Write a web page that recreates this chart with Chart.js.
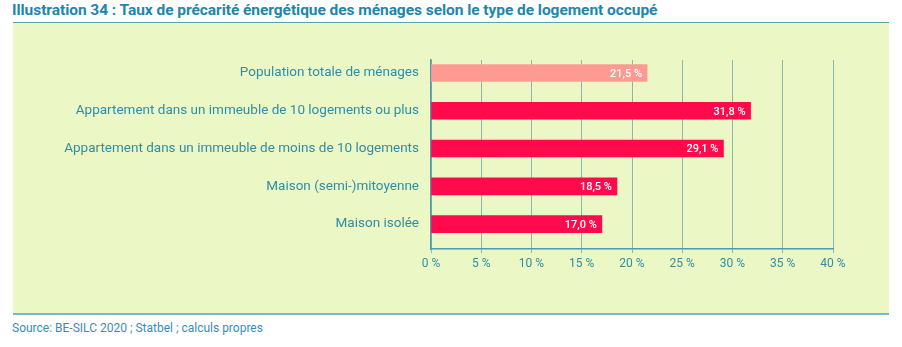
<!DOCTYPE html>
<html lang="fr">
<head>
<meta charset="UTF-8">
<title>Illustration 34</title>
<script src="https://cdn.jsdelivr.net/npm/chart.js"></script>
<style>
  body { margin: 0; background: #fff; width: 902px; height: 347px; position: relative; overflow: hidden; }
  #titre { position: absolute; left: 12px; top: 1px; font-family: Roboto, sans-serif; font-weight: bold; font-size: 15.5px; color: #1e86ad; letter-spacing: -0.05px; white-space: nowrap; }
  #cadre { position: absolute; left: 13px; top: 22px; width: 876px; height: 293px; background: #ebf7c4; border-top: 1px solid #5aa3a8; border-bottom: 2px solid #7bb8c2; box-sizing: border-box; }
  #source { position: absolute; left: 12px; top: 321px; font-family: Roboto, sans-serif; font-size: 12px; color: #3a8cb8; white-space: nowrap; }
  #zone { position: absolute; left: 0; top: 0; width: 902px; height: 347px; }
</style>
</head>
<body>
<div id="titre">Illustration 34 : Taux de précarité énergétique des ménages selon le type de logement occupé</div>
<div id="cadre"></div>
<div id="source">Source: BE-SILC 2020 ; Statbel ; calculs propres</div>
<div id="zone"><canvas id="graphique" width="902" height="347"></canvas></div>

<script>
var categories = [
    'Population totale de ménages',
    'Appartement dans un immeuble de 10 logements ou plus',
    'Appartement dans un immeuble de moins de 10 logements',
    'Maison (semi-)mitoyenne',
    'Maison isolée'
];
var valeurs = [21.5, 31.8, 29.1, 18.5, 17.0];
var couleurs = ['#ff9a93', '#ff0a4c', '#ff0a4c', '#ff0a4c', '#ff0a4c'];
var graduations = [0, 5, 10, 15, 20, 25, 30, 35, 40];

var teal = '#2f8ea6';

function pourcent(v, dec) {
    return v.toFixed(dec).replace('.', ',') + '\u00a0%';
}

// étiquettes blanches en bout de barre
var etiquettes = {
    id: 'etiquettes',
    afterDatasetsDraw: function (chart) {
        var ctx = chart.ctx;
        var meta = chart.getDatasetMeta(0);
        ctx.save();
        ctx.font = '500 11px Roboto, sans-serif';
        ctx.fillStyle = '#ffffff';
        ctx.textAlign = 'right';
        ctx.textBaseline = 'middle';
        meta.data.forEach(function (bar, i) {
            ctx.fillText(pourcent(valeurs[i], 1), bar.x - 5, bar.y + 1);
        });
        ctx.restore();
    }
};

new Chart(document.getElementById('graphique'), {
    type: 'bar',
    data: {
        datasets: [{
            data: valeurs.map(function (v, i) { return { x: v, y: i }; }),
            backgroundColor: couleurs,
            barThickness: 17,
            borderWidth: 0
        }]
    },
    options: {
        indexAxis: 'y',
        responsive: false,
        animation: false,
        layout: { padding: { left: 0, right: 69, top: 60, bottom: 0 } },
        plugins: { legend: { display: false }, tooltip: { enabled: false } },
        scales: {
            x: {
                type: 'linear',
                min: 0,
                max: 40,
                afterBuildTicks: function (axis) {
                    axis.ticks = graduations.map(function (g) { return { value: g }; });
                },
                afterFit: function (axis) { axis.height = 98; },
                ticks: {
                    color: teal,
                    font: { family: 'Roboto, sans-serif', size: 12 },
                    padding: 4,
                    callback: function (v) { return pourcent(v, 0); }
                },
                grid: { color: '#8bb7ae', lineWidth: 1, drawTicks: true, tickLength: 4 },
                border: { color: '#4f9aae', width: 1.5 }
            },
            y: {
                type: 'linear',
                offset: false,
                reverse: true,
                min: -0.344,
                max: 4.66,
                afterBuildTicks: function (axis) {
                    axis.ticks = categories.map(function (c, i) { return { value: i }; });
                },
                afterFit: function (axis) { axis.width = 431; },
                ticks: {
                    color: teal,
                    font: { family: 'Roboto, sans-serif', size: 13.5 },
                    padding: 12,
                    callback: function (v) { return categories[v]; }
                },
                grid: { display: false, offset: false, drawTicks: false },
                border: { color: '#4f9aae', width: 1.5 }
            }
        }
    },
    plugins: [etiquettes]
});
</script>
</body>
</html>
